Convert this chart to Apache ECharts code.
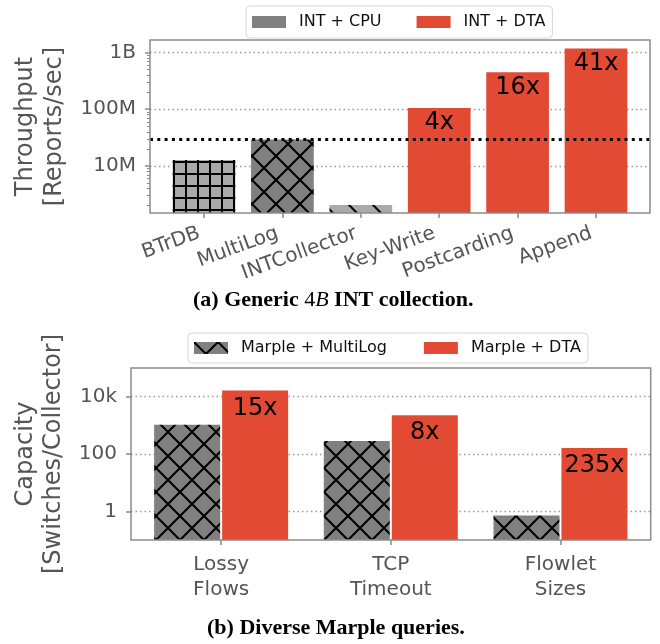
<!DOCTYPE html>
<html><head><meta charset="utf-8">
<script src="https://cdn.jsdelivr.net/npm/echarts@6/dist/echarts.min.js"></script>
<style>html,body{margin:0;padding:0;background:#fff}#c{width:660px;height:644px}</style>
</head><body><div id="c"></div>
<script>
// ---------- data: top chart (a) ----------
const topCategories = ['BTrDB', 'MultiLog', 'INTCollector', 'Key-Write', 'Postcarding', 'Append'];
const topCpuValues = [12.7e6, 29.4e6, 2.07e6, null, null, null];
const topDtaValues = [null, null, null, 105e6, 446e6, 1.175e9];
const topDtaLabels = ['', '', '', '4x', '16x', '41x'];
const topBaseline = 29.4e6;               // MultiLog throughput (dotted reference line)
const topTickValues = [1e7, 1e8, 1e9];
const topTickLabels = ['10M', '100M', '1B'];
const topLegend = ['INT + CPU', 'INT + DTA'];
const topAxisMin = 1.49e6, topAxisMax = 1.65e9;

// ---------- data: bottom chart (b) ----------
const bottomCategories = ['Lossy\nFlows', 'TCP\nTimeout', 'Flowlet\nSizes'];
const bottomMultiLogValues = [1050, 282, 0.71];
const bottomDtaValues = [16500, 2260, 162];
const bottomDtaLabels = ['15x', '8x', '235x'];
const bottomTickValues = [1, 100, 1e4];
const bottomTickLabels = ['1', '100', '10k'];
const bottomLegend = ['Marple + MultiLog', 'Marple + DTA'];
const bottomAxisMin = 0.1, bottomAxisMax = 1e5;

// ---------- styles ----------
const RED = '#e24a33', GRAY = '#808080', LIGHT = '#aaaaaa';
const topCpuHatch = ['+', 'x', '\\'];
const topCpuFill = [LIGHT, GRAY, LIGHT];
const FONT = 'DejaVu Sans';
const SERIF = 'Liberation Serif';
const TXT = '#555';

function hatch(kind, bg) {
  const s = kind === '+' ? 12 : 24;
  const c = document.createElement('canvas');
  c.width = s; c.height = s;
  const g = c.getContext('2d');
  g.fillStyle = bg; g.fillRect(0, 0, s, s);
  g.strokeStyle = '#000'; g.lineWidth = 2;
  g.beginPath();
  if (kind === '+') { g.moveTo(s / 2, 0); g.lineTo(s / 2, s); g.moveTo(0, s / 2); g.lineTo(s, s / 2); }
  if (kind === 'x' || kind === '\\') { for (const o of [-s, 0, s]) { g.moveTo(o, 0); g.lineTo(o + s, s); } }
  if (kind === 'x' || kind === '/') { for (const o of [-s, 0, s]) { g.moveTo(o, s); g.lineTo(o + s, 0); } }
  g.stroke();
  return { image: c, repeat: 'repeat' };
}

function fmt(values, labels) {
  return function (v) {
    for (let i = 0; i < values.length; i++) {
      if (Math.abs(Math.log10(v) - Math.log10(values[i])) < 1e-6) return labels[i];
    }
    return '';
  };
}

const topMinor = [];
for (let d = 1e6; d < topAxisMax; d *= 10) {
  for (let k = 2; k <= 9; k++) { const v = k * d; if (v > topAxisMin && v < topAxisMax) topMinor.push(v); }
}

const cpuData = topCpuValues.map((v, i) => v == null ? '-' :
  { value: v, itemStyle: { color: hatch(topCpuHatch[i], topCpuFill[i]) } });
const dtaData = topDtaValues.map(v => v == null ? '-' : v);

const tickStyle = { color: '#888', width: 1.5 };
const gridLine = { show: true, lineStyle: { color: '#9a9a9a', width: 1.3, type: [1.5, 3] } };
const legendBase = {
  orient: 'horizontal', icon: 'rect', itemWidth: 34, itemHeight: 12,
  backgroundColor: '#fff', borderColor: '#d6d6d6', borderWidth: 1, borderRadius: 4,
  textStyle: { fontFamily: FONT, fontSize: 16, color: '#111', padding: [0, 0, 0, 8] }
};

const chart = echarts.init(document.getElementById('c'), null, { renderer: 'canvas' });
chart.setOption({
  animation: false,
  textStyle: { fontFamily: FONT },
  title: [
    { text: '(a) Generic {m|4}{i|B} INT collection.', left: 193, top: 289, padding: 0,
      textStyle: { fontFamily: SERIF, fontWeight: 'bold', fontSize: 22, color: '#000',
        rich: { m: { fontFamily: SERIF, fontWeight: 'normal', fontSize: 22, color: '#000' },
                i: { fontFamily: SERIF, fontStyle: 'italic', fontWeight: 'normal', fontSize: 22, color: '#000' } } } },
    { text: '(b) Diverse Marple queries.', left: 207, top: 617, padding: 0,
      textStyle: { fontFamily: SERIF, fontWeight: 'bold', fontSize: 22, color: '#000' } }
  ],
  legend: [
    Object.assign({}, legendBase, { data: topLegend, left: 246, top: 6, padding: [8, 7, 8, 6], itemGap: 35 }),
    Object.assign({}, legendBase, { data: bottomLegend, left: 188, top: 333, padding: [7, 7, 7, 6], itemGap: 37 })
  ],
  grid: [
    { left: 150, top: 40, width: 500, height: 173, show: true, borderColor: '#8c8c8c', borderWidth: 1.5, backgroundColor: 'transparent', z: 10 },
    { left: 164.8, top: 40, width: 470.4, height: 173 },
    { left: 131, top: 368, width: 519.7, height: 172, show: true, borderColor: '#8c8c8c', borderWidth: 1.5, backgroundColor: 'transparent', z: 10 },
    { left: 136.3, top: 368, width: 509, height: 172 }
  ],
  xAxis: [
    { gridIndex: 0, type: 'value', min: 0, max: 1, show: false },
    { gridIndex: 1, type: 'category', data: topCategories, axisLine: { show: false },
      axisTick: { show: true, alignWithLabel: true, length: 5, lineStyle: tickStyle },
      axisLabel: { rotate: 20, interval: 0, fontSize: 20, color: TXT, margin: 18, padding: [0, 5, 0, 0] } },
    { gridIndex: 2, type: 'value', min: 0, max: 1, show: false },
    { gridIndex: 3, type: 'category', data: bottomCategories, axisLine: { show: false },
      axisTick: { show: true, alignWithLabel: true, length: 5, lineStyle: tickStyle },
      axisLabel: { interval: 0, fontSize: 20, lineHeight: 25, color: TXT, margin: 12 } }
  ],
  yAxis: [
    { gridIndex: 0, type: 'log', min: topAxisMin, max: topAxisMax, position: 'left',
      name: 'Throughput\n[Reports/sec]', nameLocation: 'middle', nameGap: 76,
      nameTextStyle: { fontSize: 24, lineHeight: 29, color: TXT },
      axisLine: { show: false },
      axisTick: { show: true, length: 5, customValues: topTickValues, lineStyle: tickStyle },
      axisLabel: { customValues: topTickValues, formatter: fmt(topTickValues, topTickLabels), fontSize: 20, color: TXT, margin: 14 },
      splitLine: gridLine },
    { gridIndex: 0, type: 'log', min: topAxisMin, max: topAxisMax, position: 'left',
      axisLine: { show: false }, axisLabel: { show: false }, splitLine: { show: false },
      axisTick: { show: true, length: 3, customValues: topMinor, lineStyle: { color: '#888', width: 1 } } },
    { gridIndex: 1, type: 'log', min: topAxisMin, max: topAxisMax, startValue: topAxisMin, show: false },
    { gridIndex: 2, type: 'log', min: bottomAxisMin, max: bottomAxisMax, position: 'left',
      name: 'Capacity\n[Switches/Collector]', nameLocation: 'middle', nameGap: 61,
      nameTextStyle: { fontSize: 24, lineHeight: 28, color: TXT },
      axisLine: { show: false },
      axisTick: { show: true, length: 5, customValues: bottomTickValues, lineStyle: tickStyle },
      axisLabel: { customValues: bottomTickValues, formatter: fmt(bottomTickValues, bottomTickLabels), fontSize: 20, color: TXT, margin: 14 },
      splitLine: gridLine },
    { gridIndex: 3, type: 'log', min: bottomAxisMin, max: bottomAxisMax, startValue: bottomAxisMin, show: false }
  ],
  series: [
    { name: topLegend[0], type: 'bar', xAxisIndex: 1, yAxisIndex: 2, data: cpuData,
      barWidth: 62.7, barGap: '-100%', itemStyle: { color: GRAY } },
    { name: topLegend[1], type: 'bar', xAxisIndex: 1, yAxisIndex: 2, data: dtaData,
      barWidth: 62.7, barGap: '-100%', itemStyle: { color: RED },
      label: { show: true, position: 'insideTop', distance: 3, fontSize: 24, color: '#000',
        formatter: p => topDtaLabels[p.dataIndex] } },
    { type: 'line', xAxisIndex: 0, yAxisIndex: 0, data: [[0, topBaseline], [1, topBaseline]],
      symbol: 'none', silent: true, z: 5,
      lineStyle: { color: '#000', width: 3, type: [3, 4.3], cap: 'butt' } },
    { name: bottomLegend[0], type: 'bar', xAxisIndex: 3, yAxisIndex: 4, data: bottomMultiLogValues,
      barWidth: 66, barGap: '3%', itemStyle: { color: hatch('x', GRAY) } },
    { name: bottomLegend[1], type: 'bar', xAxisIndex: 3, yAxisIndex: 4, data: bottomDtaValues,
      barWidth: 66, barGap: '3%', itemStyle: { color: RED },
      label: { show: true, position: 'insideTop', distance: 6, fontSize: 24, color: '#000',
        formatter: p => bottomDtaLabels[p.dataIndex] } }
  ]
});
</script>
</body></html>
